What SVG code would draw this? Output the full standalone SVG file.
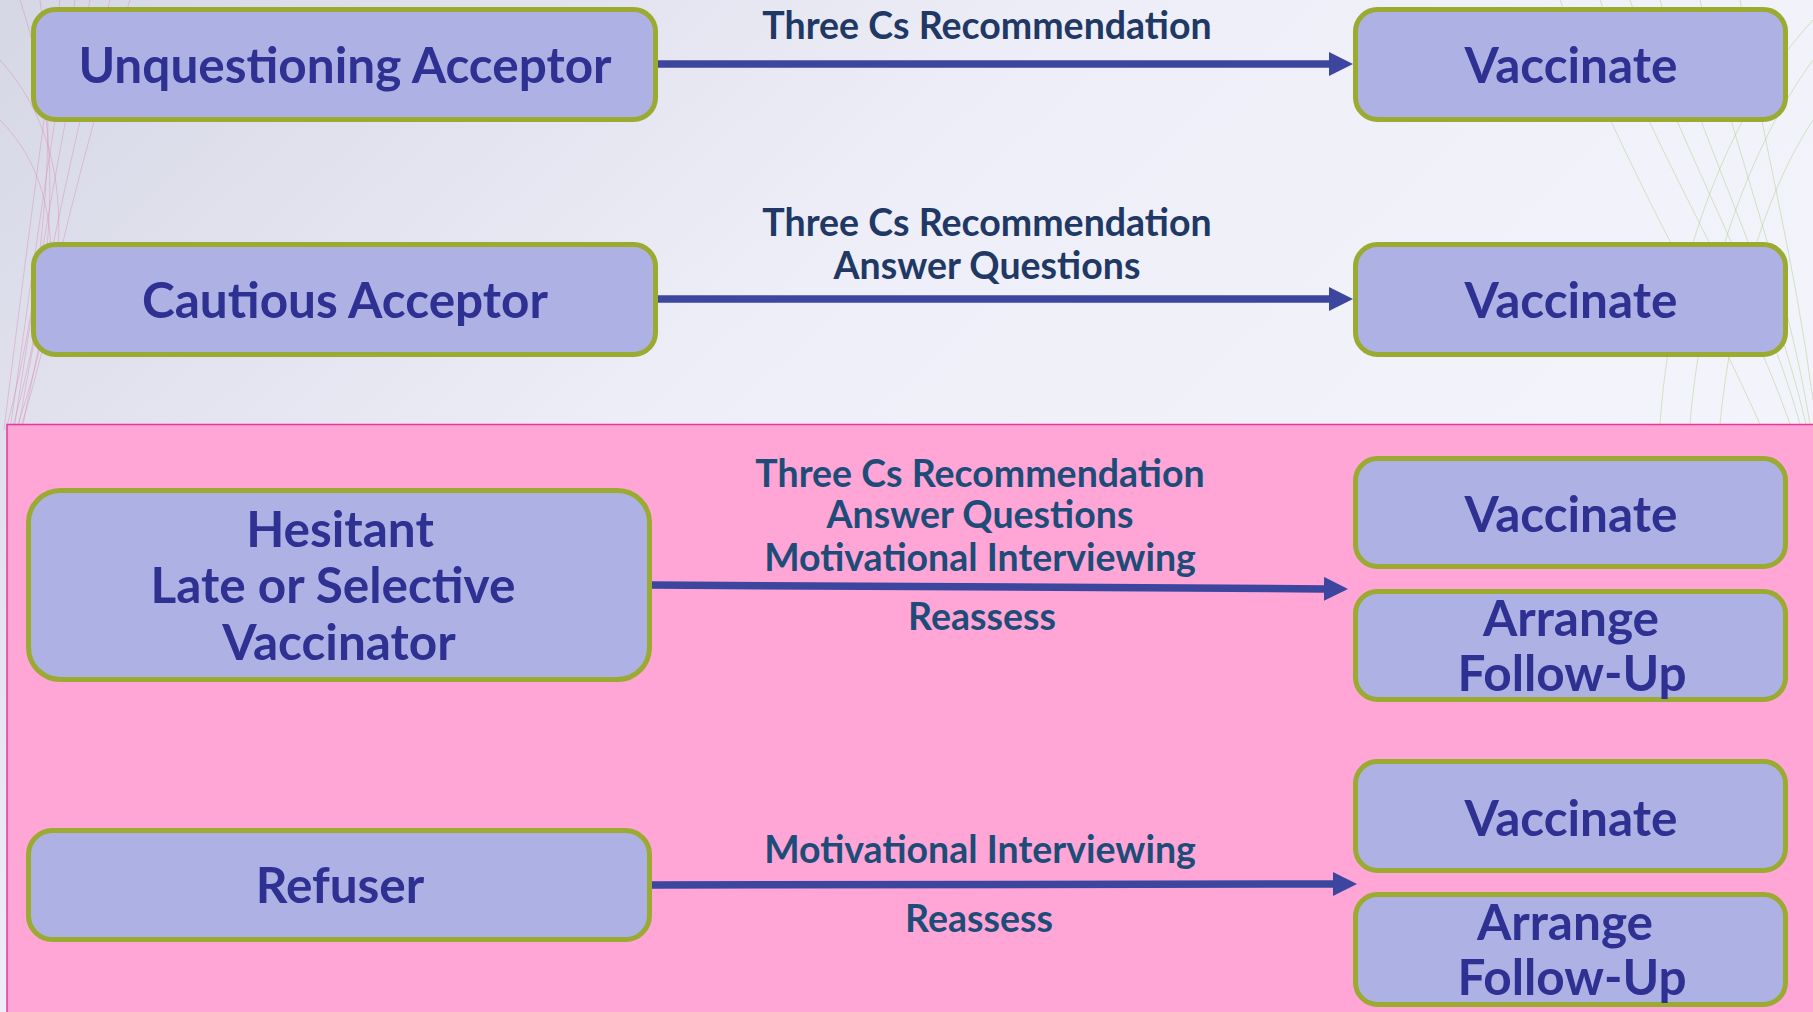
<svg xmlns="http://www.w3.org/2000/svg" width="1813" height="1012" viewBox="0 0 1813 1012">
<defs>
<linearGradient id="bg" x1="0" y1="0" x2="1" y2="0.6">
<stop offset="0" stop-color="#D6D7E5"/>
<stop offset="0.45" stop-color="#EDEEF7"/>
<stop offset="1" stop-color="#F4F5FC"/>
</linearGradient>
<marker id="ah" viewBox="0 0 24 24" markerWidth="24" markerHeight="24" refX="1" refY="12" orient="auto" markerUnits="userSpaceOnUse">
<path d="M0,0 L24,12 L0,24 z" fill="#3C469F"/>
</marker>
<style>
.box{fill:#ADB1E4;stroke:#9BAA30;stroke-width:5}
.nt{font-family:Lato,"Liberation Sans",sans-serif;font-weight:700;font-size:49.5px;fill:#2E3192;text-anchor:middle}
.lt{font-family:Lato,"Liberation Sans",sans-serif;font-weight:700;font-size:37.5px;fill:#1F3864;text-anchor:middle}
.lp{fill:#1E4C78}
.cn{stroke:#3C469F;stroke-width:7.5;fill:none;marker-end:url(#ah)}
.mp{fill:none;stroke:#D98BB8;stroke-width:1;opacity:0.45}
.mg{fill:none;stroke:#AFCF8A;stroke-width:1;opacity:0.5}
</style>
</defs>
<rect x="0" y="0" width="1813" height="1012" fill="url(#bg)"/>
<g id="mesh-left">
<path class="mp" d="M60,0 C40,150 20,300 4,430"/>
<path class="mp" d="M75,0 C50,140 30,290 10,430"/>
<path class="mp" d="M90,0 C62,130 36,280 14,430"/>
<path class="mp" d="M110,0 C78,120 46,270 18,430"/>
<path class="mp" d="M130,0 C95,110 55,260 22,430"/>
<path class="mp" d="M40,0 C60,140 40,300 6,430"/>
<path class="mp" d="M20,0 C70,150 50,290 12,430"/>
<path class="mp" d="M0,60 C90,160 60,300 20,430"/>
<path class="mp" d="M0,120 C80,200 50,330 16,430"/>
</g>
<g id="mesh-right">
<path class="mg" d="M1600,0 C1650,150 1740,280 1790,424"/>
<path class="mg" d="M1630,0 C1680,150 1760,280 1800,424"/>
<path class="mg" d="M1660,0 C1700,140 1770,270 1806,424"/>
<path class="mg" d="M1700,0 C1730,140 1785,270 1810,424"/>
<path class="mg" d="M1740,0 C1760,130 1795,260 1813,400"/>
<path class="mg" d="M1813,60 C1740,160 1700,300 1690,424"/>
<path class="mg" d="M1813,120 C1760,200 1730,320 1720,424"/>
<path class="mg" d="M1813,20 C1720,120 1670,280 1660,424"/>
<path class="mg" d="M1560,0 C1620,160 1700,290 1760,424"/>
</g>
<rect id="pink-region" x="7" y="424.5" width="1810" height="592" fill="#FFA6D6" stroke="#E8379A" stroke-width="1.5"/>
<g id="connectors">
<line class="cn" x1="658" y1="64" x2="1330" y2="64"/>
<line class="cn" x1="658" y1="299" x2="1330" y2="299"/>
<line class="cn" x1="652" y1="585" x2="1325" y2="588.9"/>
<line class="cn" x1="652" y1="885" x2="1334" y2="884"/>
<text class="lt" x="987" y="39">Three Cs Recommendation</text>
<text class="lt" x="987" y="236">Three Cs Recommendation</text>
<text class="lt" x="987" y="279">Answer Questions</text>
<text class="lt lp" x="980" y="487">Three Cs Recommendation</text>
<text class="lt lp" x="980" y="528">Answer Questions</text>
<text class="lt lp" x="980" y="571">Motivational Interviewing</text>
<text class="lt lp" x="982" y="630">Reassess</text>
<text class="lt lp" x="980" y="863">Motivational Interviewing</text>
<text class="lt lp" x="979" y="932">Reassess</text>
</g>
<g id="unquestioning-acceptor">
<rect class="box" x="33.5" y="9.5" width="622" height="110" rx="22"/>
<text class="nt" x="345" y="83">Unquestioning Acceptor</text>
</g>
<g id="cautious-acceptor">
<rect class="box" x="33.5" y="244.5" width="622" height="110" rx="22"/>
<text class="nt" x="345" y="318">Cautious Acceptor</text>
</g>
<g id="vaccinate-1">
<rect class="box" x="1355.5" y="9.5" width="430" height="110" rx="22"/>
<text class="nt" x="1571" y="83">Vaccinate</text>
</g>
<g id="vaccinate-2">
<rect class="box" x="1355.5" y="244.5" width="430" height="110" rx="22"/>
<text class="nt" x="1571" y="318">Vaccinate</text>
</g>
<g id="hesitant">
<rect class="box" x="28.5" y="490.5" width="621" height="189" rx="32"/>
<text class="nt" x="340" y="547">Hesitant</text>
<text class="nt" x="333" y="603">Late or Selective</text>
<text class="nt" x="339" y="660">Vaccinator</text>
</g>
<g id="refuser">
<rect class="box" x="28.5" y="830.5" width="621" height="109" rx="24"/>
<text class="nt" x="340" y="903">Refuser</text>
</g>
<g id="vaccinate-3">
<rect class="box" x="1355.5" y="458.5" width="430" height="108" rx="22"/>
<text class="nt" x="1571" y="532">Vaccinate</text>
</g>
<g id="arrange-1">
<rect class="box" x="1355.5" y="591.5" width="430" height="108" rx="22"/>
<text class="nt" x="1571" y="636">Arrange</text>
<text class="nt" x="1572" y="691">Follow-Up</text>
</g>
<g id="vaccinate-4">
<rect class="box" x="1355.5" y="761.5" width="430" height="109" rx="22"/>
<text class="nt" x="1571" y="836">Vaccinate</text>
</g>
<g id="arrange-2">
<rect class="box" x="1355.5" y="894.5" width="430" height="110" rx="22"/>
<text class="nt" x="1565" y="940">Arrange</text>
<text class="nt" x="1572" y="995">Follow-Up</text>
</g>
</svg>
